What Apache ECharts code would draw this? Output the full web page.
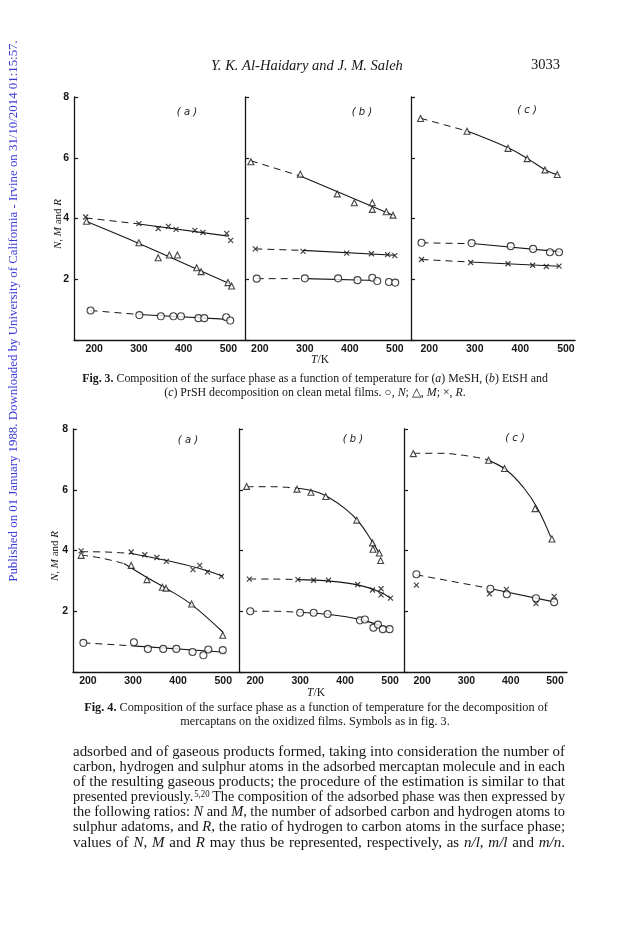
<!DOCTYPE html>
<html><head><meta charset="utf-8">
<script src="https://cdn.jsdelivr.net/npm/echarts@6/dist/echarts.min.js"></script>
<style>html,body{margin:0;padding:0;background:#fff}#c{width:629px;height:939px}</style>
</head><body><div id="c"></div>
<script>
// ---------- Data (T/K, value) ----------
const xTicks = [200, 300, 400, 500];
const yTicks = [2, 4, 6, 8];

// Fig. 3 (a) MeSH
const f3a_N = [[192,0.97],[301,0.82],[349,0.78],[377,0.78],[394,0.78],[433,0.72],[446,0.72],[495,0.75],[504,0.64]];
const f3a_M = [[183,3.91],[300,3.2],[343,2.71],[368,2.8],[386,2.8],[429,2.38],[439,2.25],[499,1.89],[507,1.78]];
const f3a_R = [[181,4.05],[300,3.83],[343,3.67],[366,3.74],[383,3.64],[425,3.61],[443,3.54],[496,3.51],[505,3.28]];
const f3a_N_dash = [[192,0.97],[300,0.84]];
const f3a_N_fit = [[300,0.84],[500,0.68]];
const f3a_M_fit = [[183,3.9],[300,3.18],[430,2.33],[503,1.85]];
const f3a_R_dash = [[181,4.02],[300,3.82]];
const f3a_R_fit = [[300,3.82],[500,3.42]];

// Fig. 3 (b) EtSH
const f3b_N = [[193,2.02],[300,2.03],[374,2.03],[417,1.97],[450,2.05],[461,1.94],[487,1.91],[501,1.89]];
const f3b_M = [[180,5.87],[290,5.46],[372,4.81],[410,4.52],[450,4.52],[450,4.30],[481,4.22],[496,4.11]];
const f3b_R = [[190,3.0],[296,2.92],[393,2.86],[448,2.84],[484,2.81],[500,2.78]];
const f3b_N_dash = [[193,2.02],[300,2.02]];
const f3b_N_fit = [[300,2.02],[460,1.96]];
const f3b_M_dash = [[180,5.9],[290,5.4]];
const f3b_M_fit = [[290,5.4],[500,4.08]];
const f3b_R_dash = [[190,3.0],[296,2.95]];
const f3b_R_fit = [[296,2.95],[500,2.79]];

// Fig. 3 (c) PrSH
const f3c_N = [[183,3.2],[293,3.19],[379,3.09],[428,3.0],[465,2.89],[485,2.89]];
const f3c_M = [[181,7.29],[283,6.87],[373,6.31],[415,5.97],[454,5.6],[481,5.45]];
const f3c_R = [[183,2.65],[291,2.55],[373,2.51],[427,2.46],[457,2.42],[485,2.43]];
const f3c_N_dash = [[183,3.2],[300,3.17]];
const f3c_N_fit = [[300,3.17],[490,2.9]];
const f3c_M_dash = [[181,7.3],[283,6.88]];
const f3c_M_fit = [[283,6.88],[373,6.33],[415,5.98],[455,5.6],[485,5.42]];
const f3c_R_dash = [[183,2.65],[300,2.56]];
const f3c_R_fit = [[300,2.56],[485,2.43]];

// Fig. 4 (a)
const f4a_N = [[190,0.96],[302,0.98],[333,0.76],[367,0.76],[396,0.76],[432,0.66],[456,0.55],[467,0.74],[499,0.72]];
const f4a_M = [[185,3.84],[296,3.51],[331,3.04],[365,2.79],[373,2.76],[430,2.24],[499,1.21]];
const f4a_R = [[185,3.99],[296,3.95],[326,3.86],[353,3.77],[374,3.64],[433,3.37],[448,3.51],[465,3.29],[496,3.15]];
const f4a_N_dash = [[190,0.96],[300,0.86]];
const f4a_N_fit = [[300,0.86],[505,0.65]];
const f4a_M_dash = [[185,3.85],[230,3.75],[280,3.57]];
const f4a_M_fit = [[280,3.57],[330,3.12],[375,2.74],[430,2.22],[500,1.3]];
const f4a_R_dash = [[185,3.96],[240,3.95],[296,3.9]];
const f4a_R_fit = [[296,3.9],[375,3.67],[450,3.4],[500,3.15]];

// Fig. 4 (b)
const f4b_N = [[189,2.0],[300,1.95],[330,1.95],[361,1.91],[433,1.7],[444,1.73],[463,1.46],[473,1.56],[484,1.41],[499,1.41]];
const f4b_M = [[181,6.11],[293,6.02],[324,5.92],[357,5.78],[426,5.0],[461,4.25],[462,4.04],[476,3.92],[479,3.67]];
const f4b_R = [[187,3.06],[295,3.04],[330,3.02],[363,3.02],[428,2.88],[461,2.7],[480,2.74],[480,2.54],[501,2.43]];
const f4b_N_dash = [[189,2.0],[240,2.0],[300,1.96]];
const f4b_N_fit = [[300,1.96],[360,1.9],[430,1.74],[500,1.42]];
const f4b_M_dash = [[181,6.1],[240,6.1],[293,6.05]];
const f4b_M_fit = [[293,6.05],[330,5.96],[360,5.78],[400,5.38],[430,4.95],[460,4.3],[476,3.9]];
const f4b_R_dash = [[187,3.06],[240,3.06],[295,3.04]];
const f4b_R_fit = [[295,3.04],[360,3.0],[430,2.86],[480,2.62],[500,2.44]];

// Fig. 4 (c)
const f4c_N = [[187,3.22],[354,2.74],[391,2.56],[457,2.43],[498,2.3]];
const f4c_M = [[180,7.19],[350,6.97],[386,6.7],[455,5.38],[493,4.38]];
const f4c_R = [[187,2.86],[352,2.57],[390,2.72],[457,2.25],[498,2.49]];
const f4c_N_dash = [[187,3.2],[350,2.76]];
const f4c_N_fit = [[350,2.76],[500,2.3]];
const f4c_M_dash = [[180,7.2],[240,7.2],[300,7.12],[345,7.0]];
const f4c_M_fit = [[345,7.0],[390,6.65],[430,6.05],[460,5.4],[490,4.45]];

// ---------- Layout ----------
const panels = [
  {grid:{left:74, top:97, width:171, height:243}, x:[155,537], labels:true,
   N:f3a_N, M:f3a_M, R:f3a_R,
   dash:[f3a_N_dash, f3a_R_dash], solid:[f3a_N_fit, f3a_M_fit, f3a_R_fit]},
  {grid:{left:245, top:97, width:166, height:243}, x:[167,536], labels:false,
   N:f3b_N, M:f3b_M, R:f3b_R,
   dash:[f3b_N_dash, f3b_M_dash, f3b_R_dash], solid:[f3b_N_fit, f3b_M_fit, f3b_R_fit]},
  {grid:{left:411, top:97, width:164, height:243}, x:[160,520], labels:false,
   N:f3c_N, M:f3c_M, R:f3c_R,
   dash:[f3c_N_dash, f3c_M_dash, f3c_R_dash], solid:[f3c_N_fit, f3c_M_fit, f3c_R_fit]},
  {grid:{left:73, top:429, width:166, height:243}, x:[167,535], labels:true,
   N:f4a_N, M:f4a_M, R:f4a_R,
   dash:[f4a_N_dash, f4a_M_dash, f4a_R_dash], solid:[f4a_N_fit, f4a_M_fit, f4a_R_fit]},
  {grid:{left:239, top:429, width:165, height:243}, x:[164,531], labels:false,
   N:f4b_N, M:f4b_M, R:f4b_R,
   dash:[f4b_N_dash, f4b_M_dash, f4b_R_dash], solid:[f4b_N_fit, f4b_M_fit, f4b_R_fit]},
  {grid:{left:404, top:429, width:163, height:243}, x:[159,527], labels:false,
   N:f4c_N, M:f4c_M, R:f4c_R,
   dash:[f4c_N_dash, f4c_M_dash], solid:[f4c_N_fit, f4c_M_fit]}
];

const INK = '#161616';
const grids = [], xAxes = [], yAxes = [], series = [];
const crossPath = 'path://M0 0L10 10M10 0L0 10';
panels.forEach((p, i) => {
  grids.push(Object.assign({containLabel:false}, p.grid));
  xAxes.push({type:'value', gridIndex:i, min:p.x[0], max:p.x[1],
    axisLine:{show:true, onZero:false, lineStyle:{color:INK, width:1.4}},
    axisTick:{show:false},
    splitLine:{show:false},
    axisLabel:{customValues:xTicks, margin:4, color:INK, fontSize:10.5,
      fontFamily:'Liberation Sans', fontWeight:'bold'}});
  yAxes.push({type:'value', gridIndex:i, min:0, max:8, interval:2,
    axisLine:{show:true, onZero:false, lineStyle:{color:INK, width:1.3}},
    axisTick:{show:true, inside:true, length:4, lineStyle:{color:INK, width:1.2}},
    splitLine:{show:false},
    axisLabel:{show:p.labels, customValues:yTicks, margin:5, color:INK, fontSize:10.5,
      fontFamily:'Liberation Sans', fontWeight:'bold'}});
  p.dash.forEach(d => series.push({type:'line', xAxisIndex:i, yAxisIndex:i, data:d,
    symbol:'none', smooth:d.length > 2 ? 0.4 : false, silent:true, z:2,
    lineStyle:{color:INK, width:1, type:[7,5]}}));
  p.solid.forEach(d => series.push({type:'line', xAxisIndex:i, yAxisIndex:i, data:d,
    symbol:'none', smooth:d.length > 2 ? 0.4 : false, silent:true, z:2,
    lineStyle:{color:INK, width:1.1}}));
  series.push({type:'scatter', xAxisIndex:i, yAxisIndex:i, data:p.N, symbol:'circle', symbolSize:7, z:5,
    itemStyle:{color:'#fff', borderColor:INK, borderWidth:1.1}});
  series.push({type:'scatter', xAxisIndex:i, yAxisIndex:i, data:p.M, symbol:'triangle', symbolSize:6, z:5,
    itemStyle:{color:'#fff', borderColor:INK, borderWidth:1.1}});
  series.push({type:'scatter', xAxisIndex:i, yAxisIndex:i, data:p.R, symbol:crossPath, symbolSize:5, z:5,
    itemStyle:{color:'none', borderColor:INK, borderWidth:1.2}});
});

// ---------- Text helpers ----------
const mctx = document.createElement('canvas').getContext('2d');
const SERIF = 'Liberation Serif';
function parseRich(s) {
  const segs = []; const re = /\{(\w)\|([^}]*)\}/g; let last = 0, m;
  while ((m = re.exec(s))) { if (m.index > last) segs.push({t:s.slice(last, m.index), k:''}); segs.push({t:m[2], k:m[1]}); last = re.lastIndex; }
  if (last < s.length) segs.push({t:s.slice(last), k:''});
  return segs;
}
function measureRich(s, size, baseItalic) {
  let w = 0;
  parseRich(s).forEach(g => {
    const it = g.k === 'i' || (baseItalic && g.k === '');
    const bd = g.k === 'b';
    const sz = g.k === 's' ? size * 0.62 : size;
    mctx.font = (it ? 'italic ' : '') + (bd ? 'bold ' : '') + sz + 'px "' + SERIF + '"';
    w += mctx.measureText(g.t).width;
  });
  return w;
}
function richStyles(size) {
  return {
    i:{fontStyle:'italic', fontSize:size, fontFamily:SERIF, fill:INK},
    b:{fontWeight:'bold', fontSize:size, fontFamily:SERIF, fill:INK},
    n:{fontStyle:'normal', fontSize:size, fontFamily:SERIF, fill:INK},
    s:{fontSize:size*0.62, fontFamily:SERIF, fill:INK, verticalAlign:'top', padding:[0,0,0,1]}
  };
}
function textEl(x, y, s, size, opts) {
  opts = opts || {};
  return {type:'text', x:x, y:y, rotation:opts.rot || 0, scaleX:opts.sx || 1, silent:true,
    style:{text:s, fontSize:size, fontFamily:opts.family || SERIF, fontStyle:opts.italic ? 'italic' : 'normal',
      fontWeight:opts.bold ? 'bold' : 'normal',
      fill:opts.color || INK, align:opts.align || 'left', verticalAlign:'middle', rich:richStyles(size)}};
}
function fitSize(s, target, italic) { return target / measureRich(s, 100, italic) * 100; }

const graphics = [];
// Running header
const headerText = 'Y. K. Al-Haidary and J. M. Saleh';
graphics.push(textEl(307, 66, headerText, fitSize(headerText, 192, true), {italic:true, align:'center'}));
graphics.push(textEl(560, 65, '3033', fitSize('3033', 29), {align:'right'}));

// Vertical watermark
const wm = 'Published on 01 January 1988. Downloaded by University of California - Irvine on 31/10/2014 01:15:57.';
graphics.push(textEl(14, 311, wm, fitSize(wm, 542), {align:'center', rot:Math.PI/2, color:'#3a3ad6'}));

// Axis titles
graphics.push(textEl(58, 224, '{i|N}, {i|M} and {i|R}', 11, {align:'center', rot:Math.PI/2}));
graphics.push(textEl(55, 556, '{i|N}, {i|M} and {i|R}', 11, {align:'center', rot:Math.PI/2}));
graphics.push(textEl(320, 360, '{i|T}/K', 11.5, {align:'center'}));
graphics.push(textEl(316, 693, '{i|T}/K', 11.5, {align:'center'}));

// Panel labels
[['a',187,112],['b',362,112],['c',527,110],['a',188,440],['b',353,439],['c',515,438]].forEach(l => {
  graphics.push({type:'text', x:l[1], y:l[2], silent:true,
    style:{text:'( ' + l[0] + ' )', fontSize:10, fontFamily:'DejaVu Sans', fontStyle:'italic', fill:INK, align:'center', verticalAlign:'middle'}});
});

// Captions
const cap3 = ['{b|Fig. 3.} Composition of the surface phase as a function of temperature for ({i|a}) MeSH, ({i|b}) EtSH and',
              '({i|c}) PrSH decomposition on clean metal films. \u25CB, {i|N}; \u25B3, {i|M}; \u00D7, {i|R}.'];
const cap4 = ['{b|Fig. 4.} Composition of the surface phase as a function of temperature for the decomposition of',
              'mercaptans on the oxidized films. Symbols as in fig. 3.'];
const cs3 = fitSize(cap3[0], 466);
graphics.push(textEl(315, 379, cap3[0], cs3, {align:'center'}));
graphics.push(textEl(315, 393, cap3[1], cs3, {align:'center'}));
const cs4 = fitSize(cap4[0], 464);
graphics.push(textEl(316, 708, cap4[0], cs4, {align:'center'}));
graphics.push(textEl(315, 722, cap4[1], cs4, {align:'center'}));

// Body paragraph (justified; lines slightly condensed where needed)
const body = [
  'adsorbed and of gaseous products formed, taking into consideration the number of',
  'carbon, hydrogen and sulphur atoms in the adsorbed mercaptan molecule and in each',
  'of the resulting gaseous products; the procedure of the estimation is similar to that',
  'presented previously.{s|5,20} The composition of the adsorbed phase was then expressed by',
  'the following ratios: {i|N} and {i|M}, the number of adsorbed carbon and hydrogen atoms to',
  'sulphur adatoms, and {i|R}, the ratio of hydrogen to carbon atoms in the surface phase;',
  'values of {i|N}, {i|M} and {i|R} may thus be represented, respectively, as {i|n/l}, {i|m/l} and {i|m/n}.'
];
const bx0 = 73, bx1 = 565, by0 = 752, bdy = 15.1, bsize = 15;
body.forEach((l, li) => {
  const words = l.split(' ');
  const ws = words.map(w => measureRich(w, bsize));
  const tot = ws.reduce((a, b) => a + b, 0);
  const minGap = bsize * 0.25;
  const f = Math.min(1, (bx1 - bx0) / (tot + minGap * (words.length - 1)));
  const gap = (bx1 - bx0 - tot * f) / (words.length - 1);
  let x = bx0;
  words.forEach((w, wi) => {
    graphics.push(textEl(x, by0 + li * bdy, w, bsize, {align:'left', sx:f}));
    x += ws[wi] * f + gap;
  });
});

const chart = echarts.init(document.getElementById('c'), null, {renderer:'canvas'});
chart.setOption({
  backgroundColor:'#fff',
  animation:false,
  grid:grids, xAxis:xAxes, yAxis:yAxes, series:series,
  graphic:{elements:graphics}
});
</script></body></html>
